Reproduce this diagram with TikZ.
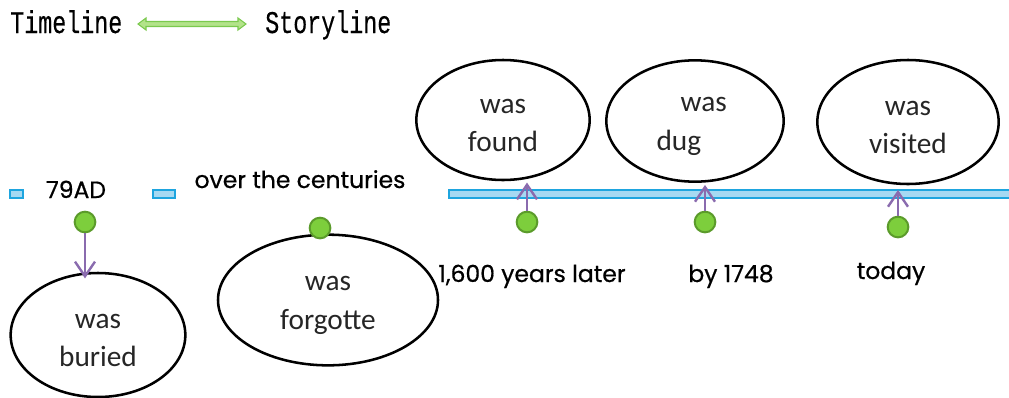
\documentclass[tikz,border=0pt]{standalone}
\usepackage{fontspec}
\setmainfont{Carlito}
\newfontfamily\comicf[FakeBold=0.6]{Poppins}
\newfontfamily\monof[FakeBold=0.4]{Liberation Mono}
\usetikzlibrary{shapes.geometric,arrows.meta}
\definecolor{bandfill}{HTML}{A6D9F2}
\definecolor{bandedge}{HTML}{1EA5DF}
\definecolor{dotfill}{HTML}{7DCE3C}
\definecolor{dotedge}{HTML}{5B9B2B}
\definecolor{purp}{HTML}{8A6BAE}
\definecolor{garfill}{HTML}{B3E38A}
\definecolor{garedge}{HTML}{7BC94E}
\definecolor{ink}{HTML}{262626}
\newcommand{\lowr}[1]{\raisebox{-4pt}[\height][\depth]{#1}}
\tikzset{
  band/.style={fill=bandfill,draw=bandedge,line width=0.9pt},
  dotnode/.style={circle,fill=dotfill,draw=dotedge,line width=1.5pt,minimum size=15.5pt,inner sep=0pt},
  oval/.style={ellipse,draw=black,line width=1.9pt,inner sep=0pt,align=center,text=ink,
    font=\fontsize{22}{29}\selectfont},
  lbl/.style={inner sep=0pt,anchor=base,font=\comicf\fontsize{17.6}{20}\selectfont},
  mono/.style={inner sep=0pt,anchor=base west,font=\monof\fontsize{17.5}{20}\selectfont},
  parrow/.style={draw=purp,line width=1.8pt,-{Straight Barb[length=11pt,width=15pt]}},
}
\begin{document}
\begin{tikzpicture}[x=0.75pt,y=-0.75pt]
\useasboundingbox (0,0) rectangle (1009,397);
% title
\node[mono] (tl) at (10,33) {\scalebox{1}[1.35]{Timeline}};
\node[mono] (sl) at (265,33) {\scalebox{1}[1.35]{Storyline}};
\path[fill=garfill,draw=garedge,line width=0.8pt]
  (138,24) -- (146,18) -- (146,21.5) -- (238,21.5) -- (238,18) -- (246,24)
  -- (238,30) -- (238,26.5) -- (146,26.5) -- (146,30) -- cycle;
% timeline band
\draw[band] (10,190) rectangle (23,198);
\draw[band] (153,190) rectangle (175,198);
\draw[band] (449,190) rectangle (1010,198);
% labels
\node[lbl] (l1) at (76,198) {79AD};
\node[lbl] (l2) at (300,188) {over the centuries};
\node[lbl] (l3) at (532,282) {1,600 years later};
\node[lbl] (l4) at (731,282) {by 1748};
\node[lbl] (l5) at (891,279) {today};
% ellipses
\node[oval,minimum width=131pt,minimum height=93pt] (buried) at (98,335) {\lowr{was}\\\lowr{buried}};
\node[oval,minimum width=165pt,minimum height=98pt] (forgot) at (328,300) {\lowr{was}\\\lowr{forgotte}};
\node[oval,minimum width=130pt,minimum height=90pt] (found) at (503,120) {\lowr{was}\\\lowr{found}};
\node[oval,minimum width=133pt,minimum height=91pt] (dug) at (695,121) {\lowr{\phantom{\rule{0.6em}{1pt}}was}\\\lowr{dug\phantom{\rule{1.1em}{1pt}}}};
\node[oval,minimum width=136pt,minimum height=93pt] (visit) at (908,122) {\lowr{was}\\\lowr{visited}};
% dots
\node[dotnode] (d1) at (85,222) {};
\node[dotnode] (d2) at (320,228) {};
\node[dotnode] (d3) at (527,222) {};
\node[dotnode] (d4) at (705,222) {};
\node[dotnode] (d5) at (898,227) {};
% arrows
\coordinate (t1) at (d1.south |- buried.north);
\coordinate (t3) at (d3.north |- found.south);
\coordinate (t4) at (d4.north |- dug.south);
\coordinate (t5) at (d5.north |- visit.south);
\draw[parrow] (d1.south) -- ([yshift=-5pt]t1);
\draw[parrow] (d3.north) -- ([yshift=-1pt]t3);
\draw[parrow] (d4.north) -- ([yshift=-1.5pt]t4);
\draw[parrow] (d5.north) -- ([yshift=-3.5pt]t5);
\end{tikzpicture}
\end{document}
